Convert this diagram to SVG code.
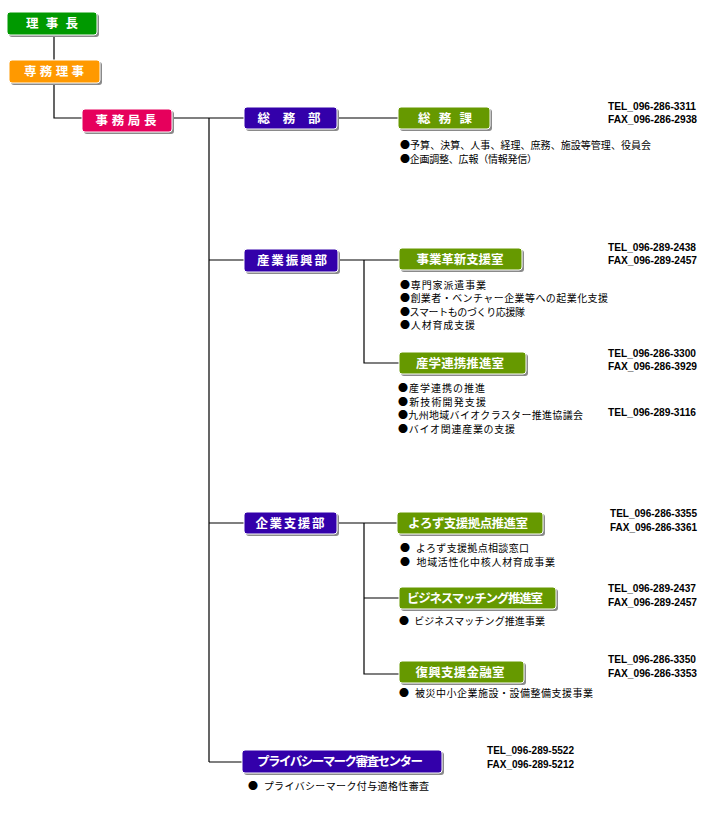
<svg xmlns="http://www.w3.org/2000/svg" width="720" height="824" viewBox="0 0 720 824">
<style>
.sh{fill:#8a8a8a}
.bx{stroke:#fff;stroke-width:1}
.g{fill:#009900}.o{fill:#FF9900}.p{fill:#E6005C}.v{fill:#3300AA}.l{fill:#669900}
.t{font-family:"Noto Sans CJK JP","Noto Sans",sans-serif;font-weight:bold;font-size:12.5px;fill:#fff;text-anchor:middle}
.b{font-family:"Noto Sans CJK JP","Noto Sans",sans-serif;font-size:10px;fill:#000}
.tel{font-family:"Liberation Sans","Noto Sans",sans-serif;font-weight:bold;font-size:11px;fill:#000}
.ln{stroke:#000;stroke-width:1.2;fill:none}
</style>
<rect width="720" height="824" fill="#fff"/>
<g id="connectors">
<path class="ln" d="M54 35V60M54 83V118H82M172 118H244M209 118V762M209 260H244M338 260H399M364 260V363H399M337 118H398M209 523H244M337 523H397M364 523V674H399M364 598H399M209 762H242"/>
</g>
<g id="n-rijicho">
<rect class="sh" x="9" y="14" width="90" height="23" rx="3"/>
<rect class="bx g" x="7" y="12" width="90" height="23" rx="3"/>
<text class="t" x="52" y="28" textLength="52" lengthAdjust="spacing">理事長</text>
</g>
<g id="n-senmu">
<rect class="sh" x="11" y="62" width="91" height="23" rx="3"/>
<rect class="bx o" x="9" y="60" width="91" height="23" rx="3"/>
<text class="t" x="54" y="76" textLength="60" lengthAdjust="spacing">専務理事</text>
</g>
<g id="n-jimukyokucho">
<rect class="sh" x="84" y="111" width="90" height="23" rx="3"/>
<rect class="bx p" x="82" y="109" width="90" height="23" rx="3"/>
<text class="t" x="126" y="125" textLength="61" lengthAdjust="spacing">事務局長</text>
</g>
<g id="n-somubu">
<rect class="sh" x="246" y="109" width="93" height="22" rx="3"/>
<rect class="bx v" x="244" y="107" width="93" height="22" rx="3"/>
<text class="t" x="289" y="122.5" textLength="63" lengthAdjust="spacing">総務部</text>
</g>
<g id="n-somuka">
<rect class="sh" x="400" y="109" width="92" height="22" rx="3"/>
<rect class="bx l" x="398" y="107" width="92" height="22" rx="3"/>
<text class="t" x="445" y="122.5" textLength="54" lengthAdjust="spacing">総務課</text>
<text class="tel" x="608" y="110" textLength="88" lengthAdjust="spacingAndGlyphs">TEL_096-286-3311</text>
<text class="tel" x="608" y="123" textLength="89" lengthAdjust="spacingAndGlyphs">FAX_096-286-2938</text>
<text class="b" x="400" y="148.5" textLength="251" lengthAdjust="spacing">●予算、決算、人事、経理、庶務、施設等管理、役員会</text>
<text class="b" x="400" y="162.5" textLength="137" lengthAdjust="spacing">●企画調整、広報（情報発信）</text>
</g>
<g id="n-sangyo">
<rect class="sh" x="246" y="251" width="94" height="23" rx="3"/>
<rect class="bx v" x="244" y="249" width="94" height="23" rx="3"/>
<text class="t" x="292" y="265" textLength="70" lengthAdjust="spacing">産業振興部</text>
</g>
<g id="n-jigyokakushin">
<rect class="sh" x="401" y="250" width="123" height="22" rx="3"/>
<rect class="bx l" x="399" y="248" width="123" height="22" rx="3"/>
<text class="t" x="460" y="263.5" textLength="87" lengthAdjust="spacing">事業革新支援室</text>
<text class="tel" x="608" y="251" textLength="88" lengthAdjust="spacingAndGlyphs">TEL_096-289-2438</text>
<text class="tel" x="608" y="264" textLength="89" lengthAdjust="spacingAndGlyphs">FAX_096-289-2457</text>
<text class="b" x="400" y="288.5" textLength="86" lengthAdjust="spacing">●専門家派遣事業</text>
<text class="b" x="400" y="302" textLength="208" lengthAdjust="spacing">●創業者・ベンチャー企業等への起業化支援</text>
<text class="b" x="400" y="315.5" textLength="125" lengthAdjust="spacing">●スマートものづくり応援隊</text>
<text class="b" x="400" y="329" textLength="75" lengthAdjust="spacing">●人材育成支援</text>
</g>
<g id="n-sangaku">
<rect class="sh" x="401" y="354" width="127" height="22" rx="3"/>
<rect class="bx l" x="399" y="352" width="127" height="22" rx="3"/>
<text class="t" x="460" y="367.5" textLength="88" lengthAdjust="spacing">産学連携推進室</text>
<text class="tel" x="608" y="357" textLength="88" lengthAdjust="spacingAndGlyphs">TEL_096-286-3300</text>
<text class="tel" x="608" y="370" textLength="89" lengthAdjust="spacingAndGlyphs">FAX_096-286-3929</text>
<text class="tel" x="608" y="416" textLength="88" lengthAdjust="spacingAndGlyphs">TEL_096-289-3116</text>
<text class="b" x="398" y="392" textLength="87" lengthAdjust="spacing">●産学連携の推進</text>
<text class="b" x="398" y="405.5" textLength="88" lengthAdjust="spacing">●新技術開発支援</text>
<text class="b" x="398" y="419" textLength="185" lengthAdjust="spacing">●九州地域バイオクラスター推進協議会</text>
<text class="b" x="398" y="432.5" textLength="117" lengthAdjust="spacing">●バイオ関連産業の支援</text>
</g>
<g id="n-kigyo">
<rect class="sh" x="246" y="514" width="93" height="22" rx="3"/>
<rect class="bx v" x="244" y="512" width="93" height="22" rx="3"/>
<text class="t" x="290" y="527.5" textLength="69" lengthAdjust="spacing">企業支援部</text>
</g>
<g id="n-yorozu">
<rect class="sh" x="399" y="514" width="146" height="22" rx="3"/>
<rect class="bx l" x="397" y="512" width="146" height="22" rx="3"/>
<text class="t" x="468" y="527.5" textLength="120" lengthAdjust="spacing">よろず支援拠点推進室</text>
<text class="tel" x="610" y="517" textLength="87" lengthAdjust="spacingAndGlyphs">TEL_096-286-3355</text>
<text class="tel" x="610" y="531" textLength="87" lengthAdjust="spacingAndGlyphs">FAX_096-286-3361</text>
<text class="b" x="400" y="552" textLength="129" lengthAdjust="spacing">●&#8194;よろず支援拠点相談窓口</text>
<text class="b" x="400" y="566" textLength="155" lengthAdjust="spacing">●&#8194;地域活性化中核人材育成事業</text>
</g>
<g id="n-business">
<rect class="sh" x="401" y="589" width="157" height="22" rx="3"/>
<rect class="bx l" x="399" y="587" width="157" height="22" rx="3"/>
<text class="t" x="475" y="602.5" textLength="136" lengthAdjust="spacing">ビジネスマッチング推進室</text>
<text class="tel" x="608" y="592" textLength="88" lengthAdjust="spacingAndGlyphs">TEL_096-289-2437</text>
<text class="tel" x="608" y="606" textLength="89" lengthAdjust="spacingAndGlyphs">FAX_096-289-2457</text>
<text class="b" x="399" y="625" textLength="146" lengthAdjust="spacing">●&#8194;ビジネスマッチング推進事業</text>
</g>
<g id="n-fukko">
<rect class="sh" x="401" y="663" width="125" height="22" rx="3"/>
<rect class="bx l" x="399" y="661" width="125" height="22" rx="3"/>
<text class="t" x="460" y="676.5" textLength="89" lengthAdjust="spacing">復興支援金融室</text>
<text class="tel" x="608" y="663" textLength="88" lengthAdjust="spacingAndGlyphs">TEL_096-286-3350</text>
<text class="tel" x="608" y="677" textLength="89" lengthAdjust="spacingAndGlyphs">FAX_096-286-3353</text>
<text class="b" x="399" y="697" textLength="194" lengthAdjust="spacing">●&#8194;被災中小企業施設・設備整備支援事業</text>
</g>
<g id="n-privacy">
<rect class="sh" x="244" y="752" width="200" height="23" rx="3"/>
<rect class="bx v" x="242" y="750" width="200" height="23" rx="3"/>
<text class="t" x="340" y="766" textLength="166" lengthAdjust="spacing">プライバシーマーク審査センター</text>
<text class="tel" x="487" y="754" textLength="87" lengthAdjust="spacingAndGlyphs">TEL_096-289-5522</text>
<text class="tel" x="487" y="768" textLength="87" lengthAdjust="spacingAndGlyphs">FAX_096-289-5212</text>
<text class="b" x="248" y="790" textLength="181" lengthAdjust="spacing">●&#8194;プライバシーマーク付与適格性審査</text>
</g>
</svg>
